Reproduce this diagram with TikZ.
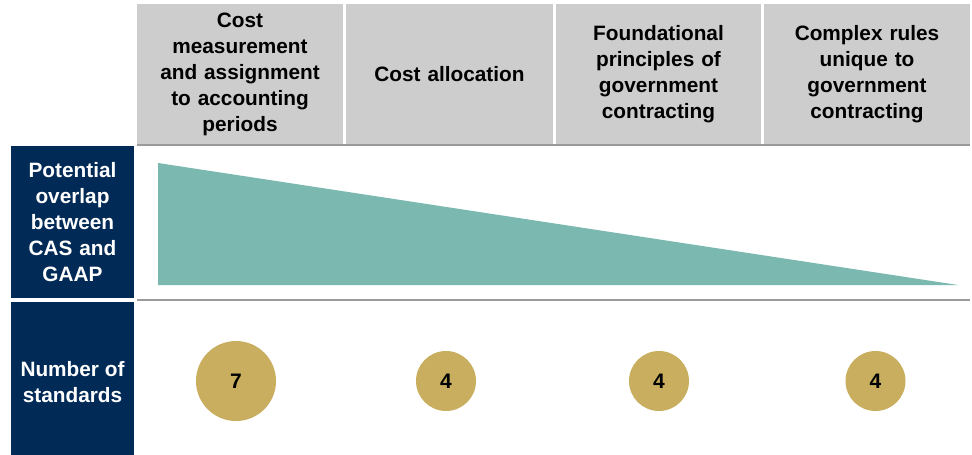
\documentclass[tikz,border=0pt]{standalone}
\usepackage{fontspec}
\setmainfont{Liberation Sans}
\definecolor{hdrgray}{HTML}{CDCDCD}
\definecolor{navy}{HTML}{022A56}
\definecolor{teal}{HTML}{7AB8B0}
\definecolor{gold}{HTML}{C8AE5E}
\definecolor{rulegray}{HTML}{9A9A9A}
\begin{document}
\begin{tikzpicture}[x=1pt,y=-1pt,
  hdr/.style={fill=hdrgray, draw=none, minimum height=140pt, inner sep=0pt,
    text width=196pt, align=center, font=\fontsize{20.8}{26}\selectfont\bfseries, text=black},
  side/.style={fill=navy, draw=none, minimum width=123pt, inner sep=0pt,
    text width=120pt, align=center, font=\fontsize{20.8}{26}\selectfont\bfseries, text=white},
  coin/.style={circle, fill=gold, draw=none, inner sep=0pt, font=\fontsize{21}{24}\selectfont\bfseries, text=black},
  rule/.style={draw=rulegray, line width=1.5pt}]
\useasboundingbox (0,0) rectangle (972,455);
% header boxes
\node[hdr, minimum width=206pt] (h1) at (240,74) {Cost\\measurement\\and assignment\\to accounting\\periods};
\node[hdr, minimum width=207pt] (h2) at (449.5,74) {Cost allocation};
\node[hdr, minimum width=205pt] (h3) at (658.5,74) {Foundational\\principles of\\government\\contracting};
\node[hdr, minimum width=206pt] (h4) at (867,74) {Complex rules\\unique to\\government\\contracting};
% rules
\coordinate (r1a) at (137,145);
\coordinate (r1b) at (970,145);
\coordinate (r2a) at (137,300);
\coordinate (r2b) at (970,300);
\draw[rule] (r1a) -- (r1b);
\draw[rule] (r2a) -- (r2b);
% side boxes
\node[side, minimum height=152pt] (s1) at (72.5,222) {Potential\\overlap\\between\\CAS and\\GAAP};
\node[side, minimum height=153pt] (s2) at (72.5,378.5) {};
\node[font=\fontsize{20.8}{26}\selectfont\bfseries, text=white, align=center, inner sep=0pt] (s2t) at (72.5,382.5) {Number of\\standards};
% triangle
\coordinate (t1) at (158,163);
\coordinate (t2) at (158,285);
\coordinate (t3) at (958,285);
\fill[teal] (t1) -- (t2) -- (t3) -- cycle;
% circles
\node[coin, minimum size=80pt] (c1) at (236,381) {7};
\node[coin, minimum size=60pt] (c2) at (446,381) {4};
\node[coin, minimum size=60pt] (c3) at (659,381) {4};
\node[coin, minimum size=60pt] (c4) at (875.5,381) {4};
\end{tikzpicture}
\end{document}
